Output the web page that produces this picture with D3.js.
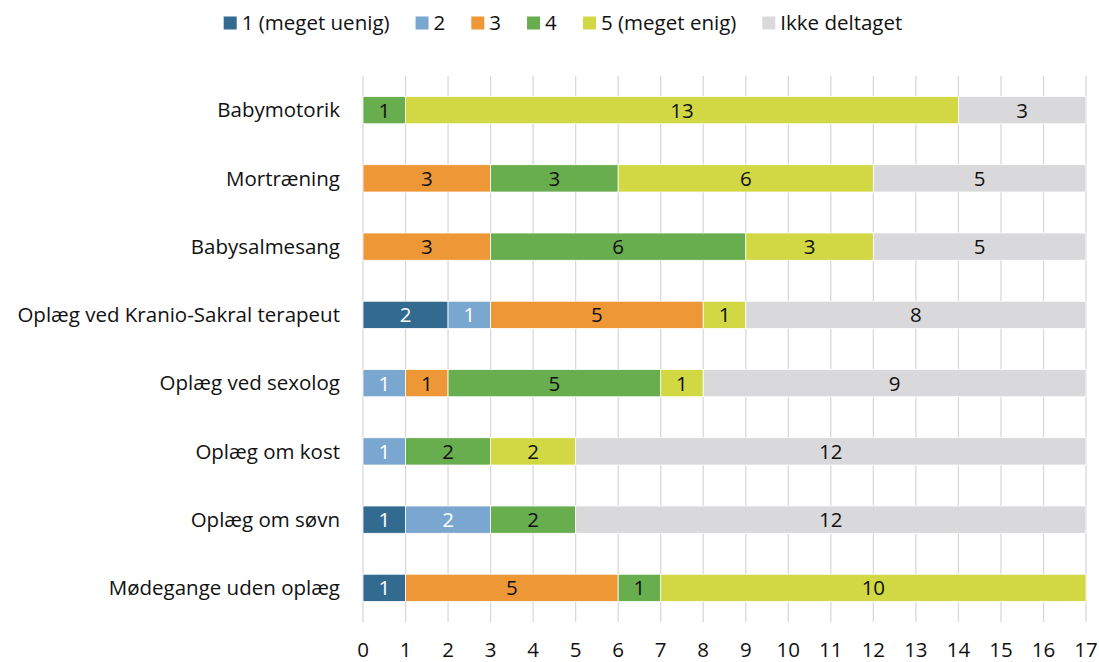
<!DOCTYPE html>
<html>
<head>
<meta charset="utf-8">
<script src="https://cdn.jsdelivr.net/npm/d3@7"></script>
<style>
  body { margin: 0; background: #fff; }
  #chart { width: 1099px; height: 662px; }
  text { font-family: "Open Sans", sans-serif; fill: #111; }
</style>
</head>
<body>
<div id="chart"></div>
<script>
//Datos
const categories = ['Babymotorik', 'Mortræning', 'Babysalmesang', 'Oplæg ved Kranio-Sakral terapeut',
  'Oplæg ved sexolog', 'Oplæg om kost', 'Oplæg om søvn', 'Mødegange uden oplæg'];
const seriesNames = ['1 (meget uenig)', '2', '3', '4', '5 (meget enig)', 'Ikke deltaget'];
const s1 = [0, 0, 0, 2, 0, 0, 1, 1];
const s2 = [0, 0, 0, 1, 1, 1, 2, 0];
const s3 = [0, 3, 3, 5, 1, 0, 0, 5];
const s4 = [1, 3, 6, 0, 5, 2, 2, 1];
const s5 = [13, 6, 3, 1, 1, 2, 0, 10];
const s6 = [3, 5, 5, 8, 9, 12, 12, 0];
const xTicks = d3.range(0, 18);

const colors = ['#326a90', '#7aa7cf', '#ee9737', '#68ad4e', '#d1d843', '#d9d9db'];
const labelColors = ['#fff', '#fff', '#111', '#111', '#111', '#111'];
const FS = 20.5;

const allSeries = [s1, s2, s3, s4, s5, s6];
const rows = categories.map(function(c, i) {
  let row = { cat: c };
  seriesNames.forEach(function(s, j) { row[s] = allSeries[j][i]; });
  return row;
});

const width = 1099, height = 662;
const margin = { top: 76, right: 13, bottom: 40, left: 363 };

let svg = d3.select('#chart').append('svg')
  .attr('width', width).attr('height', height);

let x = d3.scaleLinear().domain([0, 17]).range([margin.left, width - margin.right]);
let y = d3.scaleBand().domain(categories).range([margin.top, 622]).paddingInner(0.6).paddingOuter(0.3);

//Grid
svg.append('g').selectAll('line').data(xTicks).enter().append('line')
  .attr('x1', d => x(d)).attr('x2', d => x(d))
  .attr('y1', margin.top).attr('y2', 622)
  .attr('stroke', '#d9d9d9').attr('stroke-width', 1.3);

//Tick labels
svg.append('g').selectAll('text').data(xTicks).enter().append('text')
  .attr('x', d => x(d)).attr('y', 650)
  .attr('dy', '0.35em')
  .attr('text-anchor', 'middle').attr('font-size', FS)
  .text(d => d);

//Category labels
svg.append('g').selectAll('text').data(categories).enter().append('text')
  .attr('x', 340).attr('y', d => y(d) + y.bandwidth() / 2)
  .attr('dy', '0.35em').attr('text-anchor', 'end').attr('font-size', FS)
  .text(d => d);

let stacked = d3.stack().keys(seriesNames)(rows);

let layers = svg.append('g').selectAll('g').data(stacked).enter().append('g')
  .attr('fill', (d, i) => colors[i]);

layers.selectAll('rect').data(d => d.filter(p => p[1] - p[0] > 0)).enter().append('rect')
  .attr('x', d => x(d[0])).attr('width', d => x(d[1]) - x(d[0]))
  .attr('y', d => y(d.data.cat)).attr('height', y.bandwidth())
  .attr('stroke', '#fff').attr('stroke-width', 0.8);

layers.each(function(layer, i) {
  d3.select(this).selectAll('text').data(layer.filter(p => p[1] - p[0] > 0)).enter().append('text')
    .attr('x', d => (x(d[0]) + x(d[1])) / 2)
    .attr('y', d => y(d.data.cat) + y.bandwidth() / 2)
    .attr('dy', '0.36em').attr('text-anchor', 'middle').attr('font-size', FS)
    .style('fill', labelColors[i])
    .text(d => d[1] - d[0]);
});

//Legend: ancho medido y centrado
let legend = svg.append('g');
let items = legend.selectAll('g').data(seriesNames).enter().append('g');
items.append('rect').attr('y', -6.5).attr('width', 13).attr('height', 13).attr('fill', (d, i) => colors[i]);
items.append('text').attr('x', 18).attr('dy', '0.36em')
  .attr('font-size', FS).text(d => d);
let pos = 0, offs = [];
items.each(function() {
  offs.push(pos);
  pos += this.getBBox().width + 26;
});
let total = pos - 26;
let startX = 563 - total / 2;
items.attr('transform', (d, i) => 'translate(' + (startX + offs[i]) + ',23)');
</script>
</body>
</html>
